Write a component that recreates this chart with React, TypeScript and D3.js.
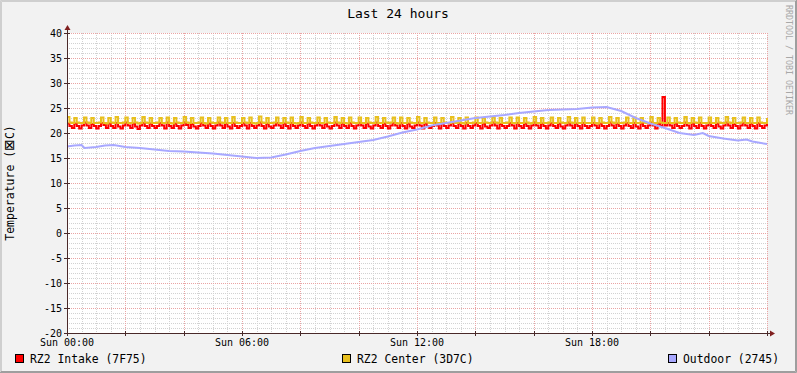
import React from "react";
import * as d3 from "d3";

const W = 797;
const H = 373;

// Y ticks / X labels
const yTicks = [-20, -15, -10, -5, 0, 5, 10, 15, 20, 25, 30, 35, 40];
const xLabelHours = [0, 6, 12, 18];
const xLabels = ["Sun 00:00", "Sun 06:00", "Sun 12:00", "Sun 18:00"];

const seriesNames = ["RZ2 Intake (7F75)", "RZ2 Center (3D7C)", "Outdoor (2745)"];
const seriesColors = ["#FF0000", "#E8C01E", "#A8A8FF"];

// 5-minute samples, one row per hour (plus final sample)
const intake = [
  21.9, 21.4, 21.0, 21.9, 21.4, 20.9, 21.5, 22.1, 21.5, 21.0, 21.8, 21.4,
  20.9, 21.4, 22.0, 21.6, 21.0, 21.9, 21.4, 21.0, 22.0, 21.3, 20.9, 21.5,
  22.1, 21.5, 21.0, 21.9, 21.3, 20.8, 21.5, 22.0, 21.4, 21.0, 21.9, 21.4,
  21.0, 21.4, 22.0, 21.5, 20.9, 22.1, 21.4, 21.0, 21.9, 21.4, 20.9, 21.5,
  22.1, 21.6, 21.0, 21.8, 21.3, 20.9, 21.4, 22.0, 21.5, 21.0, 21.9, 21.4,
  20.9, 21.5, 22.1, 21.5, 21.0, 21.9, 21.3, 20.9, 22.0, 21.4, 21.0, 21.4,
  22.0, 21.5, 20.9, 22.0, 21.4, 21.0, 21.5, 22.1, 21.4, 20.9, 21.9, 21.3,
  21.0, 21.5, 22.0, 21.5, 21.0, 21.9, 21.4, 20.9, 22.0, 21.4, 21.0, 21.5,
  22.1, 21.4, 21.0, 21.9, 21.4, 20.9, 21.5, 22.0, 21.5, 21.0, 21.8, 21.3,
  20.9, 21.4, 22.1, 21.5, 21.0, 21.9, 21.4, 21.0, 22.0, 21.4, 20.9, 21.5,
  22.0, 21.5, 21.0, 21.9, 21.3, 20.9, 21.5, 22.1, 21.4, 21.0, 21.9, 21.4,
  20.9, 21.5, 22.0, 21.5, 21.0, 22.0, 21.4, 20.9, 21.9, 21.3, 21.0, 21.5,
  22.1, 21.5, 20.9, 21.9, 21.4, 21.0, 21.4, 22.0, 21.5, 20.9, 21.9, 21.4,
  21.0, 21.5, 22.1, 21.4, 21.0, 21.9, 21.4, 20.9, 22.0, 21.4, 21.0, 21.5,
  22.0, 21.4, 20.9, 21.9, 21.3, 21.0, 21.5, 22.1, 21.5, 20.9, 21.8, 21.4,
  21.0, 21.4, 22.0, 21.5, 20.9, 22.0, 21.4, 21.0, 21.9, 21.4, 20.9, 21.5,
  22.1, 21.5, 21.0, 21.9, 21.4, 20.9, 21.5, 22.0, 21.4, 21.0, 21.9, 21.3,
  20.9, 21.5, 22.1, 21.5, 21.0, 21.9, 21.4, 20.9, 22.0, 21.4, 21.0, 21.4,
  22.0, 21.5, 21.0, 21.9, 21.4, 20.9, 21.4, 22.1, 21.5, 21.0, 21.9, 21.4,
  20.9, 21.5, 22.0, 21.4, 21.0, 22.0, 21.3, 20.9, 21.9, 21.4, 21.0, 21.5,
  22.1, 21.5, 20.9, 21.9, 21.4, 27.2, 21.5, 22.0, 21.5, 21.0, 21.9, 21.4,
  21.0, 21.4, 22.1, 21.5, 20.9, 21.9, 21.4, 21.0, 22.0, 21.4, 20.9, 21.5,
  22.0, 21.4, 21.0, 21.9, 21.3, 20.9, 21.5, 22.1, 21.5, 21.0, 21.8, 21.4,
  20.9, 21.5, 22.0, 21.5, 21.0, 21.9, 21.4, 20.9, 22.0, 21.4, 21.0, 21.5,
  21.9,
];

const center = [
  23.2, 22.1, 22.0, 23.0, 22.1, 22.0, 22.0, 23.1, 22.1, 22.0, 23.0, 22.0,
  22.0, 22.1, 23.1, 22.0, 21.9, 23.0, 22.1, 22.0, 23.2, 22.0, 22.0, 22.1,
  23.1, 22.0, 22.0, 23.0, 22.1, 21.9, 22.0, 23.2, 22.1, 22.0, 23.0, 22.0,
  22.0, 22.1, 23.0, 22.0, 22.0, 23.1, 22.0, 21.9, 23.0, 22.1, 22.0, 22.0,
  23.2, 22.1, 22.0, 23.0, 22.0, 22.0, 22.1, 23.1, 22.0, 21.9, 23.0, 22.1,
  22.0, 22.0, 23.1, 22.1, 22.0, 23.0, 22.0, 22.0, 23.2, 22.1, 22.0, 22.0,
  23.0, 22.1, 22.0, 23.1, 22.0, 21.9, 22.0, 23.3, 22.1, 22.0, 23.0, 22.0,
  22.0, 22.1, 23.1, 22.0, 22.0, 23.0, 22.1, 22.0, 23.1, 22.0, 21.9, 22.0,
  23.2, 22.0, 22.0, 23.0, 22.1, 22.0, 22.0, 23.1, 22.0, 22.0, 23.0, 22.1,
  22.0, 22.0, 23.2, 22.1, 22.0, 23.0, 22.0, 21.9, 23.1, 22.1, 22.0, 22.0,
  23.1, 22.0, 22.0, 23.0, 22.1, 22.0, 22.0, 23.2, 22.0, 22.0, 23.0, 22.1,
  22.0, 22.1, 23.1, 22.0, 21.9, 23.1, 22.0, 22.0, 23.0, 22.1, 22.0, 22.0,
  23.2, 22.0, 22.0, 23.0, 22.1, 22.0, 22.0, 23.1, 22.0, 22.0, 23.0, 22.1,
  22.0, 22.0, 23.2, 22.1, 22.0, 23.0, 22.0, 21.9, 23.1, 22.0, 22.0, 22.1,
  23.1, 22.0, 22.0, 23.0, 22.1, 22.0, 22.0, 23.2, 22.1, 22.0, 23.0, 22.0,
  22.0, 22.1, 23.1, 22.0, 22.0, 23.1, 22.0, 22.0, 23.0, 22.1, 21.9, 22.0,
  23.2, 22.0, 22.0, 23.0, 22.0, 22.0, 22.1, 23.1, 22.0, 22.0, 23.0, 22.1,
  22.0, 22.0, 23.2, 22.1, 22.0, 23.0, 22.0, 22.0, 23.1, 22.0, 22.0, 22.0,
  23.1, 22.0, 21.9, 23.0, 22.1, 22.0, 22.0, 23.2, 22.1, 22.0, 23.0, 22.0,
  22.0, 22.1, 23.1, 22.0, 22.0, 23.1, 22.0, 22.0, 23.0, 22.1, 22.0, 22.0,
  23.2, 22.0, 22.0, 23.0, 22.1, 22.0, 22.0, 23.1, 22.0, 22.0, 23.0, 22.1,
  22.0, 22.0, 23.2, 22.0, 22.0, 23.0, 22.1, 22.0, 23.1, 22.0, 22.0, 22.0,
  23.1, 22.0, 22.0, 23.0, 22.1, 22.0, 22.0, 23.2, 22.1, 22.0, 23.0, 22.0,
  22.0, 22.1, 23.1, 22.0, 22.0, 23.0, 22.0, 22.0, 23.1, 22.1, 22.0, 22.0,
  23.0,
];

const outdoorHours = [
  0, 0.25, 0.5, 0.6, 1.0, 1.3, 1.6, 2.0, 2.5, 3.0, 3.5, 4.0, 4.5, 5.0, 5.5, 6.0,
  6.5, 7.0, 7.5, 8.0, 8.5, 9.0, 9.5, 10.0, 10.5, 11.0, 11.5, 12.0, 12.5, 13.0,
  13.5, 14.0, 14.5, 15.0, 15.5, 16.0, 16.5, 17.0, 17.5, 18.0, 18.5, 19.0, 19.5,
  20.0, 20.5, 21.0, 21.5, 21.8, 22.0, 22.5, 23.0, 23.3, 23.5, 24.0,
];
const outdoorValues = [
  17.3, 17.5, 17.6, 17.0, 17.2, 17.5, 17.6, 17.2, 17.0, 16.7, 16.4, 16.3, 16.1,
  15.9, 15.6, 15.3, 15.0, 15.1, 15.7, 16.4, 17.0, 17.4, 17.8, 18.2, 18.6, 19.3,
  20.1, 20.7, 21.5, 22.0, 22.5, 23.0, 23.3, 23.6, 24.0, 24.3, 24.6, 24.7, 24.8,
  25.1, 25.2, 24.4, 23.0, 21.9, 21.0, 20.0, 19.6, 20.0, 19.4, 18.9, 18.5, 18.7,
  18.3, 17.8,
];

const PL = 67;
const PR = 767;
const PT = 33;
const PB = 333;
const FONT = "'DejaVu Sans Mono', monospace";

export default function App() {
  const x = d3.scaleLinear().domain([0, 24]).range([PL, PR]);
  const y = d3.scaleLinear().domain([-20, 40]).range([PB, PT]);

  const stepH = 24 / (intake.length - 1);
  const intakePts: [number, number][] = intake.map((v, i) => [x(i * stepH), y(v)]);
  const stepC = 24 / (center.length - 1);
  const centerPts: [number, number][] = center.map((v, i) => [x(i * stepC), y(v)]);
  const outPts: [number, number][] = outdoorHours.map((h, i) => [x(h), y(outdoorValues[i])]);

  const lineLin = d3.line().curve(d3.curveLinear);
  const lineStep = d3.line().curve(d3.curveStepAfter);

  const minorX = d3.range(0, 24.001, 0.5);
  const majorX = d3.range(0, 24.001, 2);
  const minorY = d3.range(-20, 40.001, 1);
  const majorY = yTicks;

  const px = (v: number) => Math.round(v) + 0.5;

  return (
    <svg
      width={W}
      height={H}
      style={{ position: "absolute", left: 0, top: 0 }}
      fontFamily={FONT}
    >
      {/* background & shading border */}
      <rect x={0} y={0} width={W} height={H} fill="#F2F2F2" />
      <path d={`M0.5,${H} V0.5 H${W}`} stroke="#CFCFCF" strokeWidth={1} fill="none" />
      <path d={`M1.5,${H - 1} V1.5 H${W - 1}`} stroke="#CFCFCF" strokeWidth={1} fill="none" />
      <path d={`M0,${H - 0.5} H${W - 0.5} V0`} stroke="#9E9E9E" strokeWidth={1} fill="none" />
      <path d={`M1,${H - 1.5} H${W - 1.5} V1`} stroke="#9E9E9E" strokeWidth={1} fill="none" />

      {/* canvas */}
      <rect x={PL} y={PT} width={PR - PL} height={PB - PT} fill="#FFFFFF" />

      {/* minor grid */}
      <g stroke="#D2D2D2" strokeWidth={1} strokeDasharray="1,1" shapeRendering="crispEdges">
        {minorX.map((h) => (
          <line key={"mx" + h} x1={px(x(h))} x2={px(x(h))} y1={PT} y2={PB} />
        ))}
        {minorY.map((v) => (
          <line key={"my" + v} x1={PL} x2={PR + 1} y1={px(y(v))} y2={px(y(v))} />
        ))}
      </g>
      {/* major grid */}
      <g stroke="#EAA4A4" strokeWidth={1} strokeDasharray="1,1" shapeRendering="crispEdges">
        {majorX.map((h) => (
          <line key={"Mx" + h} x1={px(x(h))} x2={px(x(h))} y1={PT} y2={PB} />
        ))}
        {majorY.map((v) => (
          <line key={"My" + v} x1={PL} x2={PR + 1} y1={px(y(v))} y2={px(y(v))} />
        ))}
      </g>

      {/* data */}
      <path d={lineStep(intakePts) || ""} fill="none" stroke={seriesColors[0]} strokeWidth={2} />
      <path d={lineStep(centerPts) || ""} fill="none" stroke={seriesColors[1]} strokeWidth={2} />
      <path d={lineLin(outPts) || ""} fill="none" stroke={seriesColors[2]} strokeWidth={2} />

      {/* axes */}
      <g stroke="#4A2A2A" strokeWidth={1} shapeRendering="crispEdges">
        <line x1={PL - 3} x2={PR + 3} y1={PB + 0.5} y2={PB + 0.5} />
        <line x1={PL + 0.5} x2={PL + 0.5} y1={PB + 3} y2={PT - 4} />
        {majorY.map((v) => (
          <line key={"ty" + v} x1={PL - 3} x2={PL + 3} y1={px(y(v))} y2={px(y(v))} />
        ))}
        {majorX.map((h) => (
          <line key={"tx" + h} x1={px(x(h))} x2={px(x(h))} y1={PB - 2} y2={PB + 3} />
        ))}
      </g>
      <path d={`M${PR + 3},${PB - 2.5} L${PR + 8},${PB + 0.5} L${PR + 3},${PB + 3.5} Z`} fill="#801F1F" />
      <path d={`M${PL - 2.5},${PT - 3} L${PL + 0.5},${PT - 8} L${PL + 3.5},${PT - 3} Z`} fill="#801F1F" />

      {/* y tick labels */}
      {yTicks.map((v) => (
        <text key={"yl" + v} x={62} y={y(v)} dy="0.35em" textAnchor="end" fontSize={10} fill="#000">
          {v}
        </text>
      ))}
      {/* x tick labels */}
      {xLabelHours.map((h, i) => (
        <text key={"xl" + h} x={x(h)} y={346} textAnchor="middle" fontSize={10} fill="#000">
          {xLabels[i]}
        </text>
      ))}

      {/* title */}
      <text x={398} y={18} textAnchor="middle" fontSize={13} fill="#000">
        Last 24 hours
      </text>

      {/* y axis label */}
      <text
        transform={`translate(14,${(PT + PB) / 2}) rotate(-90)`}
        textAnchor="middle"
        fontSize={11.5}
        fill="#000"
      >
        Temperature (<tspan fontFamily="'DejaVu Sans'" fontSize={14}>⊠</tspan>C)
      </text>

      {/* watermark */}
      <text transform={`translate(786,5) rotate(90)`} fontSize={8.3} fill="#A8A8A8">
        RRDTOOL / TOBI OETIKER
      </text>

      {/* legend */}
      {[
        { bx: 15, tx: 30 },
        { bx: 342, tx: 357 },
        { bx: 668, tx: 683 },
      ].map((p, i) => (
        <g key={"lg" + i}>
          <rect x={p.bx + 0.5} y={354.5} width={8} height={8} fill={seriesColors[i]} stroke="#000" strokeWidth={1} />
          <text x={p.tx} y={363} fontSize={11.4} fill="#000">
            {seriesNames[i]}
          </text>
        </g>
      ))}
    </svg>
  );
}
